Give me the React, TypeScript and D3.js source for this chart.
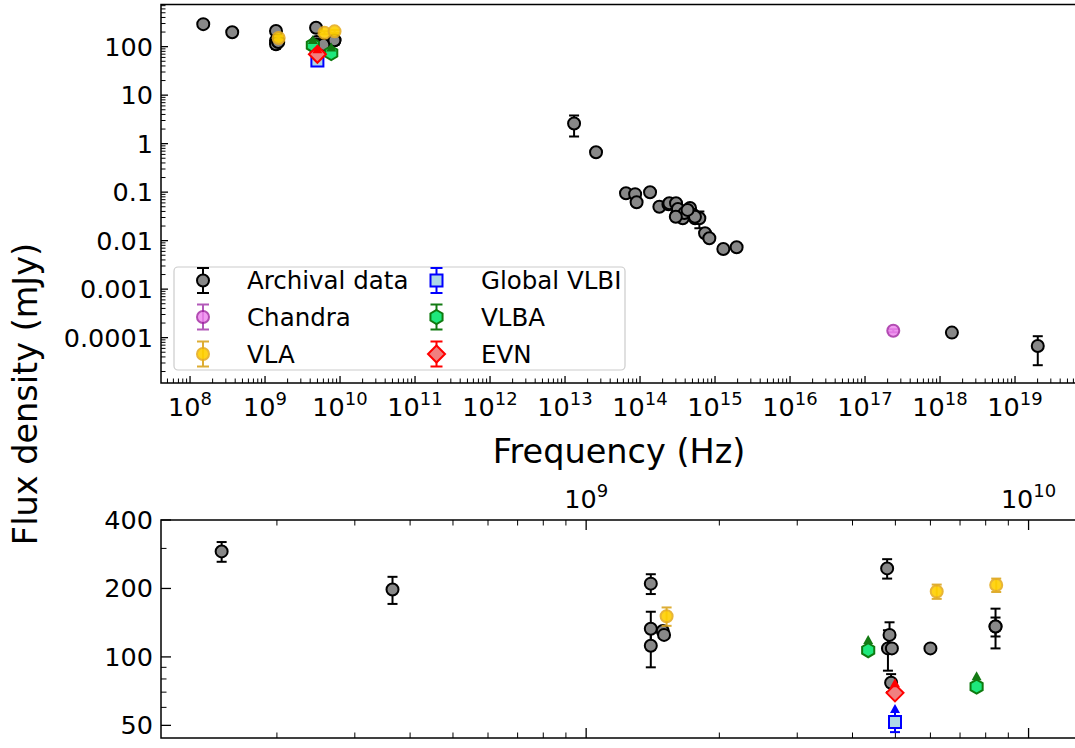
import { useEffect, useRef } from 'react'
import * as d3 from 'd3'

// archival data, split by band (Hz, mJy)
const archRadioFreq = [1.5e8, 3.65e8, 1.4e9, 1.4e9, 1.4e9, 1.49e9, 1.5e9, 4.79e9, 4.85e9, 4.81e9, 4.91e9, 4.89e9, 6.0e9, 8.42e9, 8.42e9]
const archRadioFlux = [291, 198, 210, 133, 112, 130, 125, 245, 125, 109, 109, 77, 109, 136, 136]
const archRadioErr = [29, 27, 21, 25, 22, 0, 0, 24, 17, 22, 0, 7, 0, 13, 27]

const archOptFreq = [1.32e13, 2.59e13, 6.5e13, 8.6e13, 9.0e13, 1.36e14, 1.81e14, 2.39e14, 2.46e14, 3.02e14, 3.34e14, 3.08e14, 3.71e14, 4.19e14, 4.64e14, 5.14e14, 5.41e14, 6.18e14, 7.36e14, 8.4e14, 1.29e15, 1.94e15, 3.2e14, 3.9e14, 3.0e14, 5.4e14, 4.3e14]
const archOptFlux = [2.6, 0.665, 0.095, 0.091, 0.062, 0.0995, 0.05, 0.056, 0.059, 0.059, 0.043, 0.034, 0.029, 0.04, 0.047, 0.034, 0.029, 0.029, 0.0142, 0.0112, 0.0067, 0.0073, 0.045, 0.037, 0.031, 0.031, 0.043]
const archOptErr = [1.2, 0.05, 0, 0, 0, 0, 0, 0, 0, 0, 0, 0, 0, 0, 0, 0, 0, 0.011, 0, 0, 0, 0, 0, 0, 0, 0, 0]

const archXrayFreq = [1.44e18, 2.01e19]
const archXrayFlux = [1.27e-4, 6.7e-5]
const archXrayErr = [0, 4e-5]

const chandraFreq = [2.38e17]
const chandraFlux = [1.39e-4]
const chandraErr = [0.1e-4]

const vlaFreq = [1.52e9, 6.2e9, 8.45e9]
const vlaFlux = [151, 194, 207]
const vlaErr = [14, 14, 14]

const vlbiFreq = [4.99e9]
const vlbiFlux = [51.7]
const vlbiErr = [5]
const vlbiErrLo = [5]

const vlbaFreq = [4.34e9, 7.63e9]
const vlbaFlux = [107, 74]
const vlbaErr = [7, 5]

const evnFreq = [4.99e9]
const evnFlux = [69.5]
const evnErr = [4]

// axis ticks
const topXMajor = [8, 9, 10, 11, 12, 13, 14, 15, 16, 17, 18, 19]
const topYMajor = [1e-4, 1e-3, 1e-2, 0.1, 1, 10, 100]
const topYLabels = ['0.0001', '0.001', '0.01', '0.1', '1', '10', '100']
const botXMajor = [9, 10]
const botYMajor = [50, 100, 200, 400]
const botYLabels = ['50', '100', '200', '400']
const botYMinor = [60, 70, 80, 90, 300]

const FONT = 'DejaVu Sans, sans-serif'

type Shape = 'circle' | 'square' | 'hexagon' | 'diamond'
interface Series {
    name: string
    freq: number[]
    flux: number[]
    err: number[]
    errLo?: number[]
    lolim?: boolean
    shape: Shape
    fill: string
    stroke: string
    errColor: string
    opacity?: number
}

const series: Series[] = [
    {
        name: 'Archival data',
        freq: [...archRadioFreq, ...archOptFreq, ...archXrayFreq],
        flux: [...archRadioFlux, ...archOptFlux, ...archXrayFlux],
        err: [...archRadioErr, ...archOptErr, ...archXrayErr],
        shape: 'circle', fill: '#888888', stroke: '#000000', errColor: '#000000'
    },
    { name: 'Chandra', freq: chandraFreq, flux: chandraFlux, err: chandraErr, shape: 'circle', fill: '#ee82ee', stroke: '#a020a0', errColor: '#a030a8', opacity: 0.8 },
    { name: 'VLA', freq: vlaFreq, flux: vlaFlux, err: vlaErr, shape: 'circle', fill: '#ffd000', stroke: '#e6ad22', errColor: '#daa520', opacity: 0.9 },
    { name: 'Global VLBI', freq: vlbiFreq, flux: vlbiFlux, err: vlbiErr, errLo: vlbiErrLo, lolim: true, shape: 'square', fill: '#add8e6', stroke: '#0000ff', errColor: '#0000ff' },
    { name: 'VLBA', freq: vlbaFreq, flux: vlbaFlux, err: vlbaErr, lolim: true, shape: 'hexagon', fill: '#1ee87c', stroke: '#0f7a0f', errColor: '#137a13' },
    { name: 'EVN', freq: evnFreq, flux: evnFlux, err: evnErr, lolim: true, shape: 'diamond', fill: '#f08080', stroke: '#ff0000', errColor: '#ff0000' },
]

function markerPath(shape: Shape, x: number, y: number) {
    if (shape === 'square') {
        const h = 6
        return `M${x - h},${y - h}H${x + h}V${y + h}H${x - h}Z`
    }
    if (shape === 'diamond') {
        const h = 8.5
        return `M${x},${y - h}L${x + h},${y}L${x},${y + h}L${x - h},${y}Z`
    }
    if (shape === 'hexagon') {
        const r = 7
        const pts = d3.range(6).map(k => {
            const a = (-90 + k * 60) * Math.PI / 180
            return [x + r * Math.cos(a), y + r * Math.sin(a)]
        })
        return 'M' + pts.map(p => p.join(',')).join('L') + 'Z'
    }
    const r = 6
    return `M${x - r},${y}A${r},${r} 0 1,0 ${x + r},${y}A${r},${r} 0 1,0 ${x - r},${y}Z`
}

function drawMarker(g: any, s: Series, x: number, y: number) {
    g.append('path')
        .attr('d', markerPath(s.shape, x, y))
        .attr('fill', s.fill)
        .attr('stroke', s.stroke)
        .attr('stroke-width', 2)
        .attr('opacity', s.opacity ?? 1)
}

function drawErr(g: any, color: string, x: number, y1: number, y2: number, capTop: boolean, capBottom: boolean, cap: number, opacity = 1) {
    const e = g.append('g').attr('stroke', color).attr('stroke-width', 2).attr('opacity', opacity)
    e.append('line').attr('x1', x).attr('x2', x).attr('y1', y1).attr('y2', y2)
    if (capTop) e.append('line').attr('x1', x - cap).attr('x2', x + cap).attr('y1', y1).attr('y2', y1)
    if (capBottom) e.append('line').attr('x1', x - cap).attr('x2', x + cap).attr('y1', y2).attr('y2', y2)
}

export default function App() {
    const svgRef = useRef<SVGSVGElement>(null)

    useEffect(() => {
        if (!svgRef.current) return
        const svg = d3.select(svgRef.current)
        svg.selectAll('*').remove()

        const topBox = { left: 161, right: 1076, top: 4.5, bottom: 383 }
        const botBox = { left: 161, right: 1076, top: 520, bottom: 738 }

        const xTop = d3.scaleLog().domain([4.1e7, 6.5e19]).range([topBox.left, topBox.right])
        const yTop = d3.scaleLog().domain([1.16e-5, 740]).range([topBox.bottom, topBox.top])
        const xBot = d3.scaleLog().domain([1.094e8, 1.28e10]).range([botBox.left, botBox.right])
        const yBot = d3.scaleLog().domain([44, 400]).range([botBox.bottom, botBox.top])

        const defs = svg.append('defs')
        const addClip = (id: string, b: typeof topBox) => {
            defs.append('clipPath').attr('id', id).append('rect')
                .attr('x', b.left).attr('y', b.top)
                .attr('width', b.right - b.left).attr('height', b.bottom - b.top)
        }
        addClip('clipTop', topBox)
        addClip('clipBot', botBox)

        const drawData = (clipId: string, x: any, y: any) => {
            const g = svg.append('g').attr('clip-path', `url(#${clipId})`)
            const [x0, x1] = x.domain()
            series.forEach(s => {
                const idx = s.freq.map((_, i) => i).filter(i => s.freq[i] >= x0 && s.freq[i] <= x1)
                idx.forEach(i => {
                    const px = x(s.freq[i])
                    const v = s.flux[i]
                    const e = s.err[i]
                    if (s.lolim) {
                        const lo = s.errLo ? s.errLo[i] : 0
                        drawErr(g, s.errColor, px, y(v + e), y(v - lo), false, lo > 0, 5)
                    } else if (e > 0) {
                        const lowVal = Math.max(v - e, 1e-9)
                        drawErr(g, s.errColor, px, y(v + e), y(lowVal), true, true, 5, s.opacity ?? 1)
                    }
                })
                idx.forEach(i => drawMarker(g, s, x(s.freq[i]), y(s.flux[i])))
                // lower-limit carets sit on top of the markers
                if (s.lolim) {
                    idx.forEach(i => {
                        const px = x(s.freq[i])
                        const yb = y(s.flux[i] + s.err[i])
                        g.append('path')
                            .attr('d', `M${px - 5},${yb}L${px + 5},${yb}L${px},${yb - 9}Z`)
                            .attr('fill', s.errColor)
                    })
                }
            })
        }

        const minorsLog = (lo: number, hi: number, dMin: number, dMax: number) => {
            const out: number[] = []
            for (let d = dMin; d <= dMax; d++) {
                for (let k = 2; k <= 9; k++) {
                    const v = k * Math.pow(10, d)
                    if (v > lo && v < hi) out.push(v)
                }
            }
            return out
        }

        const axisG = svg.append('g').attr('stroke', '#000')

        const xTicks = (x: any, yPos: number, dir: number, majors: number[], minors: number[], majLen: number, minLen: number) => {
            majors.forEach(v => {
                const px = x(v)
                axisG.append('line').attr('x1', px).attr('x2', px).attr('y1', yPos).attr('y2', yPos + dir * majLen).attr('stroke-width', 1.3)
            })
            minors.forEach(v => {
                const px = x(v)
                axisG.append('line').attr('x1', px).attr('x2', px).attr('y1', yPos).attr('y2', yPos + dir * minLen).attr('stroke-width', 1)
            })
        }
        const yTicks = (y: any, xPos: number, majors: number[], minors: number[], majLen: number, minLen: number) => {
            majors.forEach(v => {
                const py = y(v)
                axisG.append('line').attr('x1', xPos).attr('x2', xPos + majLen).attr('y1', py).attr('y2', py).attr('stroke-width', 1.3)
            })
            minors.forEach(v => {
                const py = y(v)
                axisG.append('line').attr('x1', xPos).attr('x2', xPos + minLen).attr('y1', py).attr('y2', py).attr('stroke-width', 1)
            })
        }

        // ---- top panel ----
        drawData('clipTop', xTop, yTop)
        const [tx0, tx1] = xTop.domain()
        const [ty0, ty1] = yTop.domain()
        xTicks(xTop, topBox.bottom, -1, topXMajor.map(d => Math.pow(10, d)), minorsLog(tx0, tx1, 7, 19), 7, 4.5)
        yTicks(yTop, topBox.left, topYMajor, minorsLog(ty0, ty1, -6, 2), 7, 4.5)

        // ---- bottom panel ----
        drawData('clipBot', xBot, yBot)
        const [bx0, bx1] = xBot.domain()
        const botXMinor = minorsLog(bx0, bx1, 8, 9)
        xTicks(xBot, botBox.top, 1, botXMajor.map(d => Math.pow(10, d)), botXMinor, 10, 5.5)
        xTicks(xBot, botBox.bottom, -1, botXMajor.map(d => Math.pow(10, d)), botXMinor, 10, 5.5)
        yTicks(yBot, botBox.left, botYMajor, botYMinor, 10, 5.5)

        // spines
        const spine = svg.append('g').attr('stroke', '#000').attr('stroke-width', 1.5).attr('fill', 'none')
        ;[topBox, botBox].forEach(b => {
            spine.append('rect').attr('x', b.left).attr('y', b.top)
                .attr('width', b.right - b.left + 2).attr('height', b.bottom - b.top)
        })

        // tick labels
        const labels = svg.append('g').style('font-family', FONT).attr('fill', '#000')
        const powLabel = (px: number, baseline: number, d: number) => {
            const t = labels.append('text').attr('x', px).attr('y', baseline)
                .attr('text-anchor', 'middle').style('font-size', '25.5px')
            t.append('tspan').text('10')
            t.append('tspan').attr('dy', -11).style('font-size', '18px').text(String(d))
        }
        topXMajor.forEach(d => powLabel(xTop(Math.pow(10, d)), 416, d))
        botXMajor.forEach(d => powLabel(xBot(Math.pow(10, d)), 508, d))

        topYMajor.forEach((v, i) => {
            labels.append('text').attr('x', topBox.left - 8).attr('y', yTop(v))
                .attr('text-anchor', 'end').attr('dominant-baseline', 'central')
                .style('font-size', '25.5px').text(topYLabels[i])
        })
        botYMajor.forEach((v, i) => {
            labels.append('text').attr('x', botBox.left - 8).attr('y', yBot(v))
                .attr('text-anchor', 'end').attr('dominant-baseline', 'central')
                .style('font-size', '25.5px').text(botYLabels[i])
        })

        // axis titles
        labels.append('text').attr('x', 619).attr('y', 463)
            .attr('text-anchor', 'middle').style('font-size', '33.5px').text('Frequency (Hz)')
        labels.append('text').attr('transform', 'translate(37,394) rotate(-90)')
            .attr('text-anchor', 'middle').style('font-size', '33.5px').text('Flux density (mJy)')

        // legend
        const leg = svg.append('g')
        leg.append('rect').attr('x', 174).attr('y', 267).attr('width', 451).attr('height', 103)
            .attr('rx', 4).attr('fill', '#fff').attr('fill-opacity', 0.8)
            .attr('stroke', '#cccccc').attr('stroke-width', 1.2)
        const rowsY = [280.5, 317, 354]
        const colMarkX = [203, 436.5]
        const colTextX = [247, 481]
        series.forEach((s, i) => {
            const col = Math.floor(i / 3)
            const row = i % 3
            const mx = colMarkX[col]
            const my = rowsY[row]
            drawErr(leg, s.errColor, mx, my - 12.5, my + 12.5, true, true, 6, s.opacity ?? 1)
            drawMarker(leg, s, mx, my)
            leg.append('text').attr('x', colTextX[col]).attr('y', my)
                .attr('dominant-baseline', 'central')
                .style('font-family', FONT).style('font-size', '24.5px')
                .text(s.name)
        })
    }, [])

    return (
        <svg ref={svgRef} width={1075} height={748}
            style={{ position: 'absolute', left: 0, top: 0, background: '#fff' }} />
    )
}
